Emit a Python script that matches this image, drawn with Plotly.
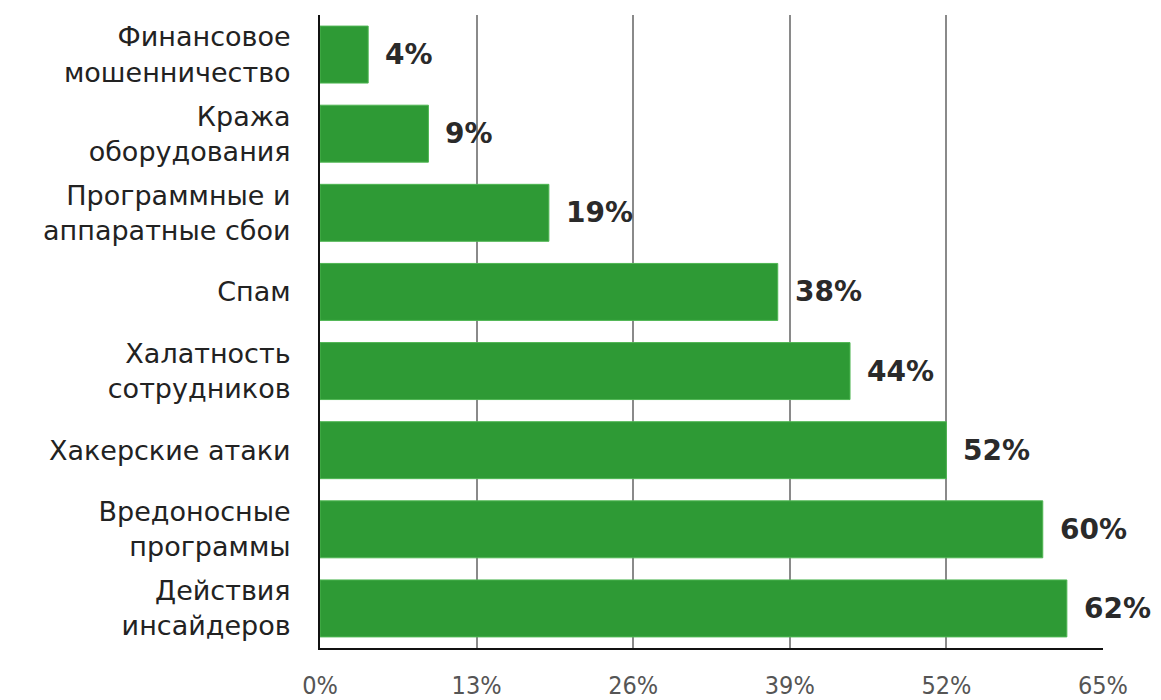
import plotly.graph_objects as go

categories = [
    "Финансовое<br>мошенничество",
    "Кража<br>оборудования",
    "Программные и<br>аппаратные сбои",
    "Спам",
    "Халатность<br>сотрудников",
    "Хакерские атаки",
    "Вредоносные<br>программы",
    "Действия<br>инсайдеров",
]
values = [4, 9, 19, 38, 44, 52, 60, 62]
tick_vals = [0, 13, 26, 39, 52, 65]
tick_text = ["0%", "13%", "26%", "39%", "52%", "65%"]

fig = go.Figure()
fig.add_trace(go.Bar(
    x=values, y=categories, orientation="h",
    marker=dict(color="#2e9a35", line=dict(color="#4fb653", width=1)),
    width=0.72,
))
for c, v in zip(categories, values):
    fig.add_annotation(x=v, y=c, text=f"<b>{v}%</b>", showarrow=False,
                       xanchor="left", xshift=15,
                       font=dict(family="DejaVu Sans", size=28, color="#2a2a2a"))

fig.update_layout(
    width=1153, height=692,
    margin=dict(l=312, r=58, t=7, b=52),
    paper_bgcolor="white", plot_bgcolor="white",
    showlegend=False,
)
fig.update_xaxes(range=[0, 65], tickvals=tick_vals, ticktext=tick_text,
                 automargin=False,
                 showgrid=True, gridcolor="#8a8a8a", gridwidth=1.5,
                 showline=True, linecolor="#111", linewidth=2,
                 zeroline=False, ticks="", ticklen=0, ticklabelstandoff=14,
                 tickfont=dict(family="DejaVu Sans Condensed", size=25, color="#555"))
fig.update_yaxes(autorange="reversed", showline=True, linecolor="#111", linewidth=2,
                 automargin=False,
                 ticks="", ticklabelstandoff=22,
                 tickfont=dict(family="DejaVu Sans", size=27, color="#222"))

fig.write_html("out.html")
